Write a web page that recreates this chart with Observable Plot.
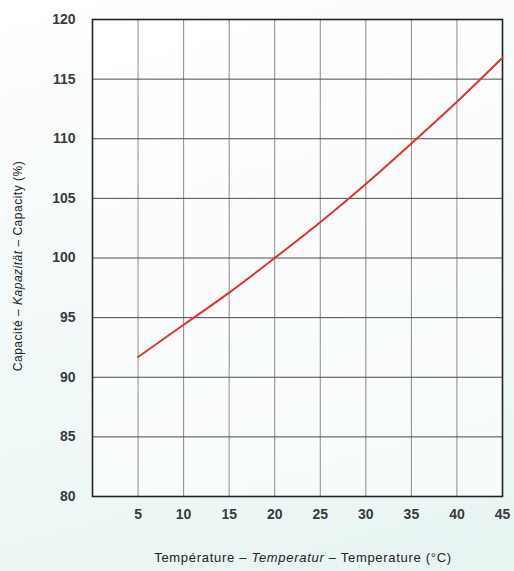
<!DOCTYPE html>
<html><head><meta charset="utf-8">
<script src="https://cdn.jsdelivr.net/npm/d3@7"></script>
<script src="https://cdn.jsdelivr.net/npm/@observablehq/plot@0.6"></script>
<style>
html,body{margin:0;padding:0;}
body{width:514px;height:571px;overflow:hidden;background:linear-gradient(165deg,#ffffff 0%,#f5fbfa 40%,#e7f4f2 100%);}
#chart svg{display:block;background:transparent;}
</style></head><body><div id="chart"></div>
<script>
const temperatures = [5, 10, 15, 20, 25, 30, 35, 40, 45];
const capacities = [91.7, 94.4, 97.1, 100.0, 103.0, 106.2, 109.6, 113.1, 116.8];
const xTicks = [5, 10, 15, 20, 25, 30, 35, 40, 45];
const yTicks = [80, 85, 90, 95, 100, 105, 110, 115, 120];
const xTitle = [["Température – ", "normal"], ["Temperatur", "italic"], [" – Temperature (°C)", "normal"]];
const yTitle = [["Capacité – ", "normal"], ["Kapazität", "italic"], [" – Capacity (%)", "normal"]];

const data = temperatures.map((t, i) => ({t, c: capacities[i]}));

const tickFont = "'Liberation Sans Narrow', 'Liberation Sans', sans-serif";

const chart = Plot.plot({
  width: 514,
  height: 571,
  marginLeft: 92,
  marginRight: 12,
  marginTop: 19,
  marginBottom: 75,
  style: {fontFamily: tickFont, fontSize: "14px", fontWeight: "bold", color: "#333", background: "transparent"},
  x: {domain: [0, 45]},
  y: {domain: [80, 120]},
  marks: [
    Plot.frame({fill: "white", fillOpacity: 0.6, stroke: "none"}),
    Plot.gridX(xTicks, {stroke: "#8a8a8a", strokeOpacity: 1, strokeWidth: 1}),
    Plot.gridY(yTicks, {stroke: "#4a4a4a", strokeOpacity: 1, strokeWidth: 1}),
    Plot.frame({stroke: "#222", strokeWidth: 1.6}),
    Plot.axisX(xTicks, {tickSize: 0, tickPadding: 13, label: null, fill: "#3a3a3a", fontFamily: tickFont, fontSize: 14, fontWeight: "bold"}),
    Plot.axisY(yTicks, {tickSize: 0, tickPadding: 17, label: null, fill: "#3a3a3a", fontFamily: tickFont, fontSize: 14, fontWeight: "bold"}),
    Plot.line(data, {x: "t", y: "c", stroke: "#e8302c", strokeWidth: 2, curve: "natural"})
  ]
});
document.getElementById("chart").append(chart);

const svg = d3.select(chart);
const xt = svg.append("text")
  .attr("x", 303).attr("y", 562).attr("text-anchor", "middle")
  .attr("fill", "#222").style("font-family", "'Liberation Sans', Arial, sans-serif")
  .style("font-size", "13px").style("font-weight", "normal").style("letter-spacing", "0.7px");
xTitle.forEach(([s, st]) => xt.append("tspan").attr("font-style", st).text(s));

const yt = svg.append("text")
  .attr("transform", "translate(22,266) rotate(-90)").attr("text-anchor", "middle")
  .attr("fill", "#222").style("font-family", "'Liberation Sans', Arial, sans-serif")
  .style("font-size", "12px").style("font-weight", "normal").style("letter-spacing", "0.5px");
yTitle.forEach(([s, st]) => yt.append("tspan").attr("font-style", st).text(s));
</script></body></html>
